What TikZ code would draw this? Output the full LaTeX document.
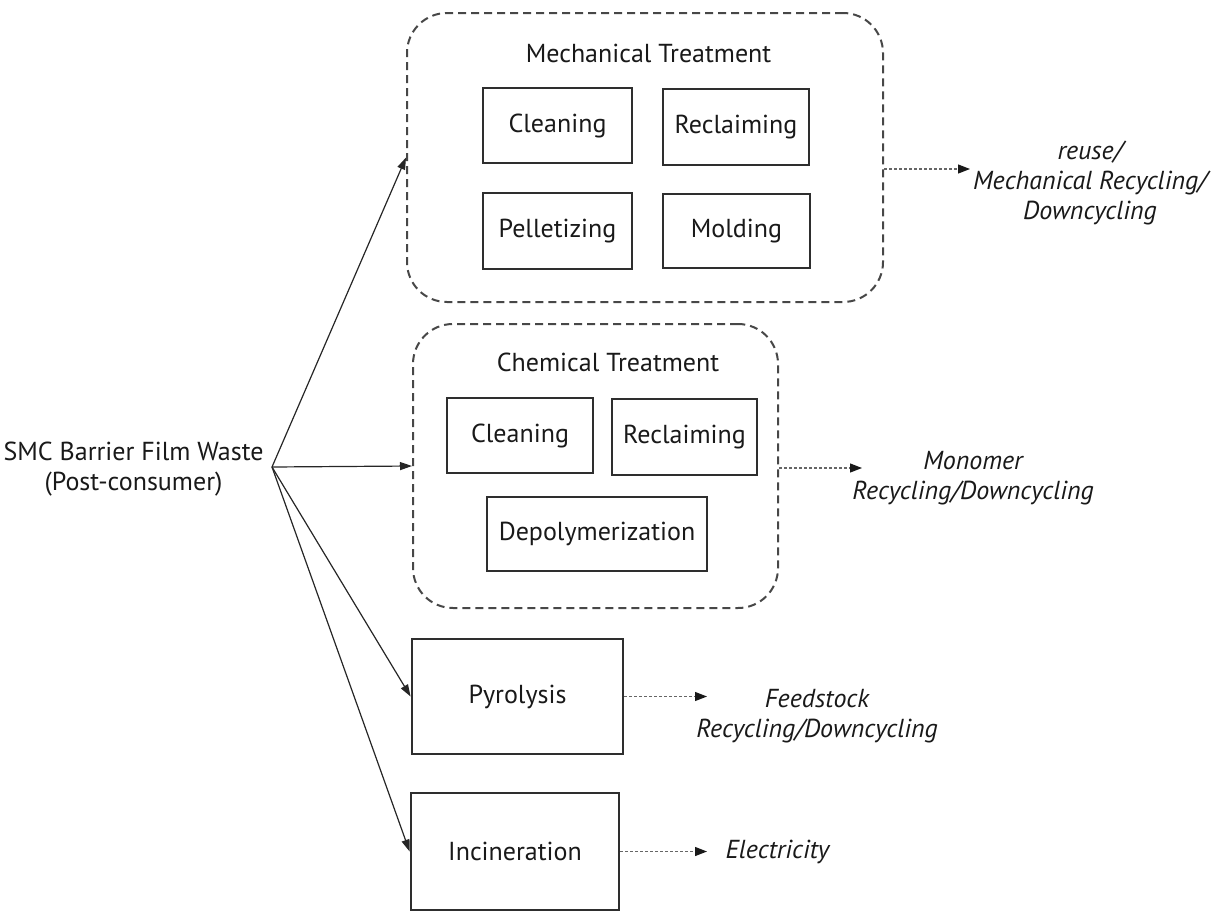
\documentclass[tikz,border=0pt]{standalone}
\usepackage{fontspec}
\setmainfont{PT Sans}
\usetikzlibrary{arrows.meta}
\begin{document}
\begin{tikzpicture}[x=1pt,y=-1pt,
  every node/.style={font=\fontsize{26}{30}\selectfont, text=black!90},
  stepbox/.style={draw=black!82, line width=2.8pt, inner sep=0pt},
  group/.style={draw=black!72, line width=2pt, dash pattern=on 8pt off 5pt,
                rounded corners=40pt, inner sep=0pt},
  feed/.style={draw=black!85, line width=1.2pt, -{Triangle[length=12pt,width=8pt]}},
  outarrow/.style={draw=black!60, line width=1.2pt, dash pattern=on 3pt off 2pt,
                   -{Triangle[length=12pt,width=9pt,black!90]}},
  result/.style={align=center, font=\itshape\fontsize{26}{30}\selectfont}]
\useasboundingbox (0,0) rectangle (1225,913);

% source
\node[align=center] (waste) at (133.5,469) {SMC Barrier Film Waste\\(Post-consumer)};
\coordinate (src) at (272,467);

% mechanical treatment group
\node[group, minimum width=476pt, minimum height=289pt] (mech) at (645,157.5) {};
\node (mechtitle) at (648.5,53) {Mechanical Treatment};
\node[stepbox, minimum width=149pt, minimum height=75pt] (mclean) at (557.5,125.5) {Cleaning};
\node[stepbox, minimum width=146pt, minimum height=76pt] (mreclaim) at (736,127) {Reclaiming};
\node[stepbox, minimum width=149pt, minimum height=76pt] (mpellet) at (557.5,231) {Pelletizing};
\node[stepbox, minimum width=147pt, minimum height=74pt] (mmold) at (736.5,231) {Molding};

% chemical treatment group
\node[group, minimum width=365pt, minimum height=284pt] (chem) at (595.5,466) {};
\node (chemtitle) at (608,362) {Chemical Treatment};
\node[stepbox, minimum width=146pt, minimum height=75pt] (cclean) at (520,435.5) {Cleaning};
\node[stepbox, minimum width=145pt, minimum height=76pt] (creclaim) at (684.5,437) {Reclaiming};
\node[stepbox, minimum width=220pt, minimum height=74pt] (cdepoly) at (597,534) {Depolymerization};

% single-step routes
\node[stepbox, minimum width=211pt, minimum height=115pt] (pyro) at (517.5,696.5) {Pyrolysis};
\node[stepbox, minimum width=208pt, minimum height=117pt] (inc) at (515,851.5) {Incineration};

% outcomes
\node[result] (mechres) at (1090,183) {reuse/\\Mechanical Recycling/\\Downcycling};
\node[result] (chemres) at (973,478) {Monomer\\Recycling/Downcycling};
\node[result] (pyrores) at (817,716) {Feedstock\\Recycling/Downcycling};
\node[result, anchor=west] (incres) at (722,852) {Electricity};

% feed arrows
\draw[feed] (src) -- (mech.west);
\draw[feed] (src) -- (chem.west);
\draw[feed] (src) -- (pyro.west);
\draw[feed] (src) -- (inc.west);

% outcome arrows
\coordinate (mechout) at (970,169);
\coordinate (chemout) at (862,468);
\coordinate (pyroout) at (707,696.5);
\coordinate (incout) at (707,851.5);
\draw[outarrow] (mech.east |- mechout) -- (mechout);
\draw[outarrow] (chem.east |- chemout) -- (chemout);
\draw[outarrow] (pyro.east) -- (pyroout);
\draw[outarrow] (inc.east) -- (incout);
\end{tikzpicture}
\end{document}
